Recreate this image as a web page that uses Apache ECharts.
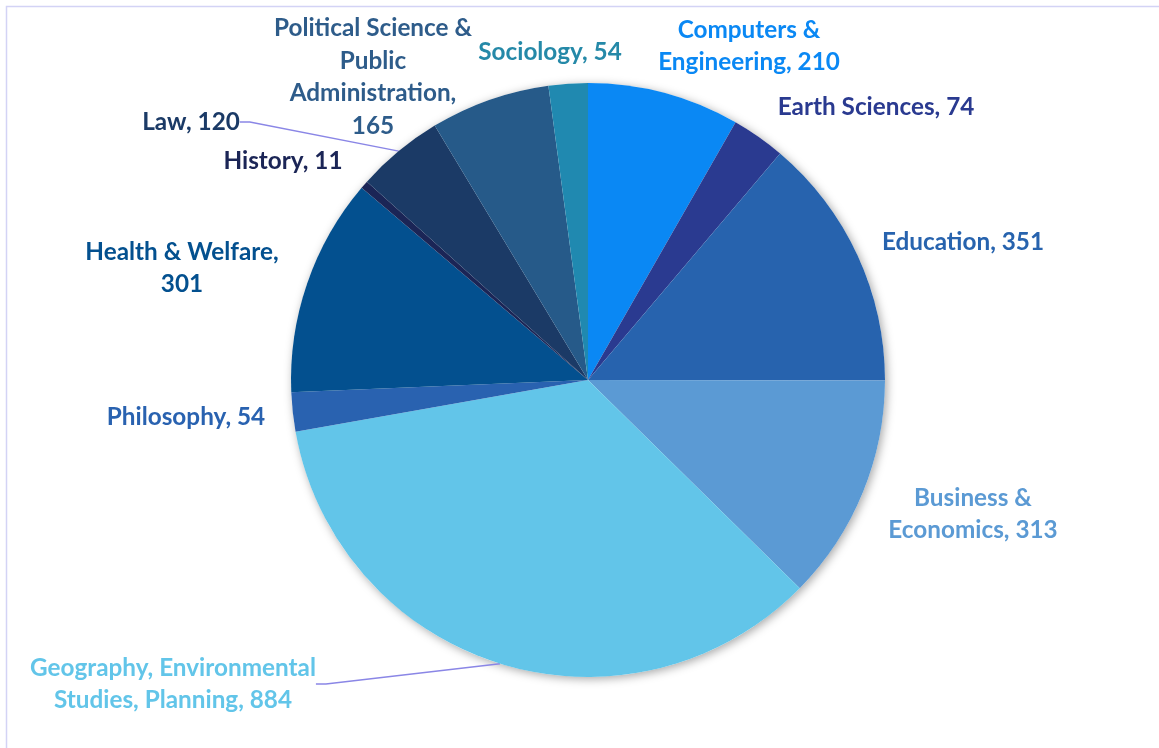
<!DOCTYPE html>
<html>
<head>
<meta charset="utf-8">
<script src="https://cdn.jsdelivr.net/npm/echarts@6/dist/echarts.min.js"></script>
<style>
html,body{margin:0;padding:0;background:#fff;}
#chart{width:1159px;height:748px;}
</style>
</head>
<body>
<div id="chart"></div>
<script>
// ---- data ----
const categories = [
  'Computers & Engineering', 'Earth Sciences', 'Education', 'Business & Economics',
  'Geography, Environmental Studies, Planning', 'Philosophy', 'Health & Welfare',
  'History', 'Law', 'Political Science & Public Administration', 'Sociology'
];
const values = [210, 74, 351, 313, 884, 54, 301, 11, 120, 165, 54];
// label text with explicit line breaks ({c} = value)
const labelTemplates = [
  'Computers &\nEngineering, {c}', 'Earth Sciences, {c}', 'Education, {c}',
  'Business &\nEconomics, {c}', 'Geography, Environmental\nStudies, Planning, {c}',
  'Philosophy, {c}', 'Health & Welfare,\n{c}', 'History, {c}', 'Law, {c}',
  'Political Science &\nPublic\nAdministration,\n{c}', 'Sociology, {c}'
];
const colors = ['#0A88F4', '#2A3A90', '#2763AE', '#5B9AD4', '#62C5E9', '#2962B0',
  '#03508F', '#1B2556', '#1B3A66', '#265A89', '#2089B0'];
const labelColors = ['#0A88F4', '#2A3A90', '#2763AE', '#5B9AD4', '#62C5E9', '#2962B0',
  '#03508F', '#1B2556', '#1B3A66', '#2E5C8A', '#2589A8'];

// ---- layout (label anchor points, px) ----
const labelPos = [
  [749, 46], [876, 107], [963, 242], [973, 514], [173, 684], [186, 417],
  [182, 268], [283, 161], [191, 122], [373, 77], [550, 52]
];
const withLine = [false, false, false, false, true, false, false, false, true, false, false];

const chart = echarts.init(document.getElementById('chart'), null, {renderer: 'canvas'});
const total = values.reduce((a, b) => a + b, 0);

const option = {
  backgroundColor: '#ffffff',
  animation: false,
  graphic: [{
    type: 'rect', shape: {x: 6.5, y: 6.5, width: 1200, height: 800},
    style: {fill: 'none', stroke: '#D3D3F5', lineWidth: 1.5}, silent: true, z: -10
  }],
  series: [
    {
      type: 'pie', silent: true, center: [588, 380], radius: 297, z: 1,
      startAngle: 90, label: {show: false}, labelLine: {show: false},
      itemStyle: {color: '#ffffff', shadowBlur: 10, shadowColor: 'rgba(0,0,0,0.35)', shadowOffsetX: 2, shadowOffsetY: 2},
      data: [{value: total, name: 'shadow'}]
    },
    {
      type: 'pie', center: [588, 380], radius: 297, z: 2,
      startAngle: 90, clockwise: true, avoidLabelOverlap: false,
      itemStyle: {borderWidth: 0},
      label: {
        show: true,
        fontFamily: 'Lato, "Open Sans", sans-serif',
        fontWeight: 'bold', fontSize: 24.3, lineHeight: 32.5, align: 'center'
      },
      labelLine: {show: true, lineStyle: {color: '#8A86E6', width: 1.5}, length: 10, length2: 10},
      labelLayout: function (p) {
        const pos = labelPos[p.dataIndex];
        return {x: pos[0], y: pos[1], align: 'center', verticalAlign: 'middle', hideOverlap: false};
      },
      data: categories.map((name, i) => ({
        name: name,
        value: values[i],
        itemStyle: {color: colors[i]},
        label: {
          color: labelColors[i],
          formatter: labelTemplates[i].replace('{c}', values[i])
        },
        labelLine: {show: withLine[i]}
      }))
    }
  ]
};
chart.setOption(option);
</script>
</body>
</html>
